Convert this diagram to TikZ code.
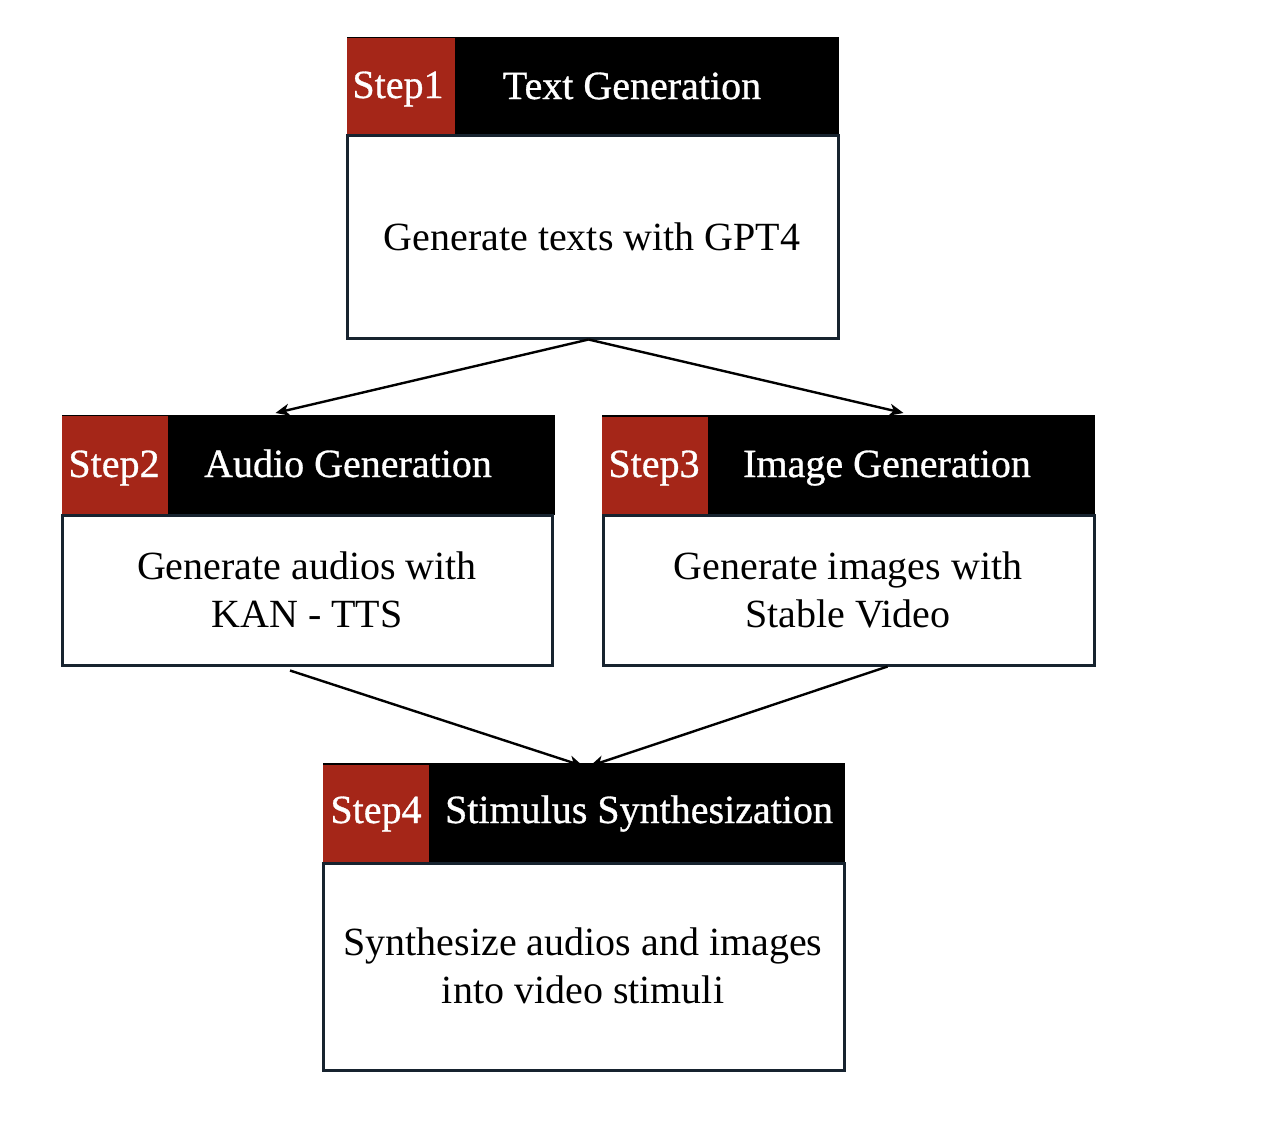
\documentclass[tikz,border=0pt]{standalone}
\usepackage{fontspec}
\setmainfont{Liberation Serif}
\newfontfamily\hdrfont{Liberation Serif}[FakeBold=0.8]
\usetikzlibrary{arrows.meta,calc}
\definecolor{stepred}{HTML}{A52618}
\definecolor{boxline}{HTML}{17232F}
\begin{document}
\begin{tikzpicture}[x=1pt,y=-1pt,
  body/.style={draw=boxline,line width=3pt,fill=white,inner sep=0pt},
  hdr/.style={fill=black,inner sep=0pt,outer sep=0pt},
  redbox/.style={fill=stepred,inner sep=0pt,outer sep=0pt},
  hdrtxt/.style={text=white,font=\hdrfont\fontsize{40}{48}\selectfont,inner sep=0pt,anchor=base},
  bodytxt/.style={text=black,font=\fontsize{40}{48}\selectfont,inner sep=0pt,anchor=base,align=center},
  conn/.style={draw=black,line width=2.4pt,-{Stealth[length=14pt,width=12pt,inset=4pt]}}]
\useasboundingbox (0,0) rectangle (1268,1120);
% Step 1
\node[hdr,minimum width=492pt,minimum height=98pt] (h1) at (593,86) {};
\node[redbox,minimum width=108pt,minimum height=97pt] (r1) at (401,86.5) {};
\node[body,minimum width=491pt,minimum height=203pt] (b1) at (592.5,236.5) {};
\node[hdrtxt] (s1) at (398,98) {Step1};
\node[hdrtxt] (t1) at (632,99) {Text Generation};
\node[bodytxt] (d1) at (592,250) {Generate texts with GPT4};
% Step 2
\node[hdr,minimum width=493pt,minimum height=100pt] (h2) at (308.5,465) {};
\node[redbox,minimum width=106pt,minimum height=98pt] (r2) at (115,465) {};
\node[body,minimum width=490pt,minimum height=150pt] (b2) at (307,590) {};
\node[hdrtxt] (s2) at (114,477) {Step2};
\node[hdrtxt] (t2) at (348,477) {Audio Generation};
\node[bodytxt] (d2) at (307,627) {Generate audios with\\KAN - TTS};
% Step 3
\node[hdr,minimum width=493pt,minimum height=102pt] (h3) at (848.5,466) {};
\node[redbox,minimum width=106pt,minimum height=98pt] (r3) at (655,466) {};
\node[body,minimum width=491pt,minimum height=150pt] (b3) at (848.5,590) {};
\node[hdrtxt] (s3) at (654,477) {Step3};
\node[hdrtxt] (t3) at (887,477) {Image Generation};
\node[bodytxt] (d3) at (848,627) {Generate images with\\Stable Video};
% Step 4
\node[hdr,minimum width=522pt,minimum height=100pt] (h4) at (584,813) {};
\node[redbox,minimum width=106pt,minimum height=98pt] (r4) at (376,814) {};
\node[body,minimum width=521pt,minimum height=207pt] (b4) at (583.5,966.5) {};
\node[hdrtxt] (s4) at (376,823) {Step4};
\node[hdrtxt] (t4) at (639,823) {Stimulus Synthesization};
\node[bodytxt] (d4) at (583,1003) {Synthesize audios and images\\into video stimuli};
% connectors
\draw[conn] ($(b1.south)+(-4,0)$) -- ($(h2.north)+(-33,-2)$);
\draw[conn] ($(b1.south)+(-4,0)$) -- ($(h3.north)+(55,-2)$);
\draw[conn] ($(b2.south)+(-17,4)$) -- ($(h4.north)+(-1,3)$);
\draw[conn] ($(b3.south)+(39,0)$) -- ($(h4.north)+(6,3)$);
\end{tikzpicture}
\end{document}
